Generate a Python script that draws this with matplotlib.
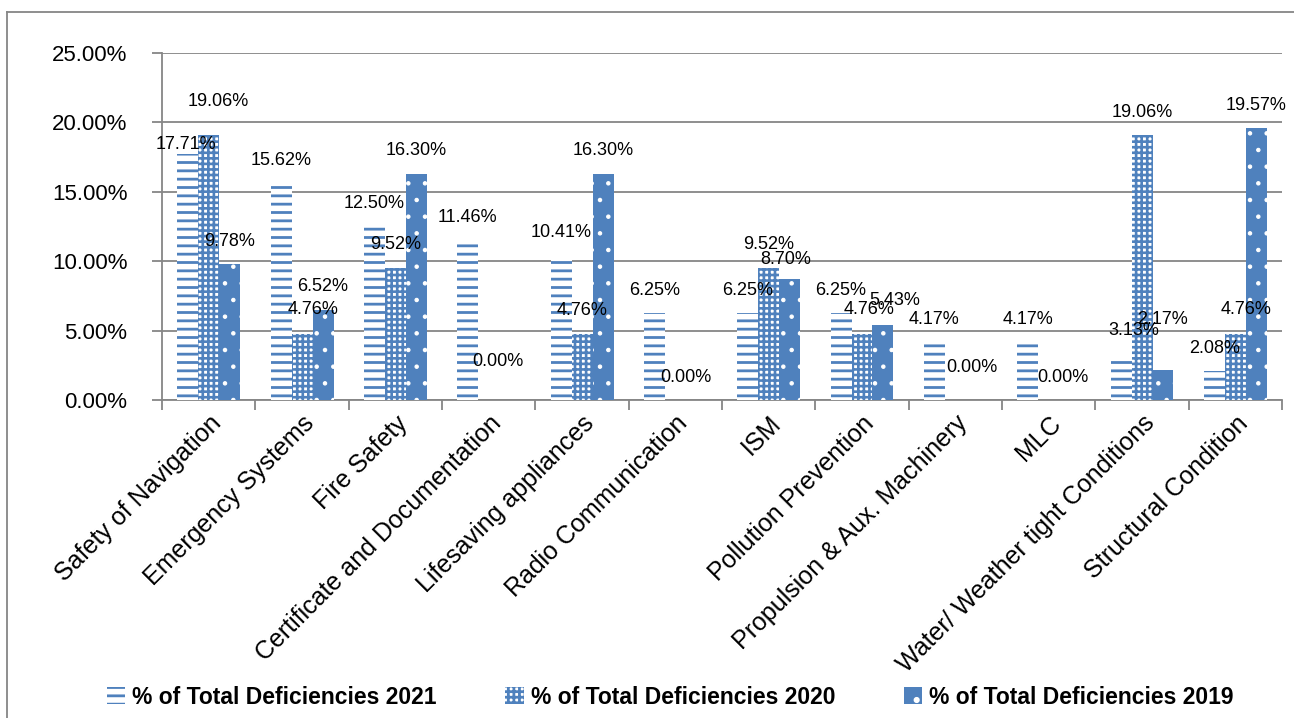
import matplotlib
matplotlib.use('Agg')
import matplotlib.pyplot as plt
from matplotlib.lines import Line2D
import numpy as np

categories = ['Safety of Navigation', 'Emergency Systems', 'Fire Safety',
              'Certificate and Documentation', 'Lifesaving appliances',
              'Radio Communication', 'ISM', 'Pollution Prevention',
              'Propulsion & Aux. Machinery', 'MLC',
              'Water/ Weather tight Conditions', 'Structural Condition']
pct_2021 = [17.71, 15.62, 12.50, 11.46, 10.41, 6.25, 6.25, 6.25, 4.17, 4.17, 3.13, 2.08]
pct_2020 = [19.06, 4.76, 9.52, 0.00, 4.76, 0.00, 9.52, 4.76, 0.00, 0.00, 19.06, 4.76]
pct_2019 = [9.78, 6.52, 16.30, 0.00, 16.30, 0.00, 8.70, 5.43, 0.00, 0.00, 2.17, 19.57]
series_names = ['% of Total Deficiencies 2021', '% of Total Deficiencies 2020',
                '% of Total Deficiencies 2019']

BLUE = '#4F81BD'
plt.rcParams['font.family'] = ['Liberation Sans', 'DejaVu Sans']
plt.rcParams['hatch.linewidth'] = 2.0

fig = plt.figure(figsize=(12.94, 7.18), dpi=100)
ax = fig.add_axes([162 / 1294, 1 - 400 / 718, (1282 - 162) / 1294, (400 - 53) / 718])

x = np.arange(len(categories))
w = 0.225
styles = [
    dict(color='white', edgecolor=BLUE, hatch='--', hlw=2.0),
    dict(color='white', edgecolor=BLUE, hatch='+++', hlw=1.9),
    dict(color=BLUE, edgecolor='white', hatch='.', hlw=0.8),
]
all_vals = [pct_2021, pct_2020, pct_2019]
bars = []
for i, (vals, st) in enumerate(zip(all_vals, styles)):
    b = ax.bar(x + (i - 1) * w, vals, w, color=st['color'], edgecolor=st['edgecolor'],
               hatch=st['hatch'], linewidth=0, zorder=3, label=series_names[i])
    for p in b.patches:
        if hasattr(p, 'set_hatch_linewidth'):
            p.set_hatch_linewidth(st['hlw'])
    bars.append(b)

# manual label nudges in pixels (dx, dy above bar top), default (0, 23)
nudges = {
    (0, 0): (-2, 10), (1, 0): (10, 34), (1, 1): (11, 24), (1, 7): (7, 24),
    (1, 11): (11, 24), (0, 10): (13, 26), (2, 10): (0, 50), (2, 6): (-4, 20),
    (2, 7): (12, 24), (2, 3): (-12, 38), (2, 5): (-10, 22), (2, 8): (-4, 33),
    (2, 9): (-7, 22),
}
for i, vals in enumerate(all_vals):
    for j, v in enumerate(vals):
        if i == 1 and v == 0:
            continue
        dx, dy = nudges.get((i, j), (0, 23))
        ax.annotate(f'{v:.2f}%', (x[j] + (i - 1) * w, v), xytext=(dx * 0.72, dy * 0.72),
                    textcoords='offset points', ha='center', va='center',
                    fontsize=13, color='black', zorder=5)

ax.set_xlim(-0.5, len(categories) - 0.5)
ax.set_ylim(0, 25)
ax.set_yticks(np.arange(0, 26, 5))
ax.set_yticklabels([f'{t:.2f}%' for t in np.arange(0, 26, 5)], fontsize=16)
ax.yaxis.grid(True, color='#868686', linewidth=1.3, zorder=0)
ax.set_axisbelow(True)

ax.set_xticks(x)
ax.set_xticklabels(categories, rotation=45, ha='right', rotation_mode='anchor', fontsize=18)
ax.tick_params(axis='x', length=0, pad=8)
ax.set_xticks(np.arange(-0.5, len(categories), 1), minor=True)
ax.tick_params(axis='x', which='minor', length=7, color='#868686', width=1.3)
ax.tick_params(axis='y', length=7, color='#868686', width=1.3, pad=18)

for s in ['top', 'right']:
    ax.spines[s].set_visible(False)
for s in ['left', 'bottom']:
    ax.spines[s].set_color('#868686')
    ax.spines[s].set_linewidth(1.3)

# outer chart frame
fig.add_artist(Line2D([7 / 1294, 7 / 1294], [0, 1 - 12 / 718], transform=fig.transFigure,
                      color='#868686', linewidth=1.3))
fig.add_artist(Line2D([7 / 1294, 1], [1 - 12 / 718, 1 - 12 / 718], transform=fig.transFigure,
                      color='#868686', linewidth=1.3))

fig.legend(handles=bars, loc='center', bbox_to_anchor=(0.518, 1 - 697 / 718), ncol=3,
           frameon=False, prop={'weight': 'bold', 'size': 16.5}, handlelength=0.8,
           handleheight=0.8, handletextpad=0.3, columnspacing=3.0)

fig.savefig('out.png', dpi=100)
